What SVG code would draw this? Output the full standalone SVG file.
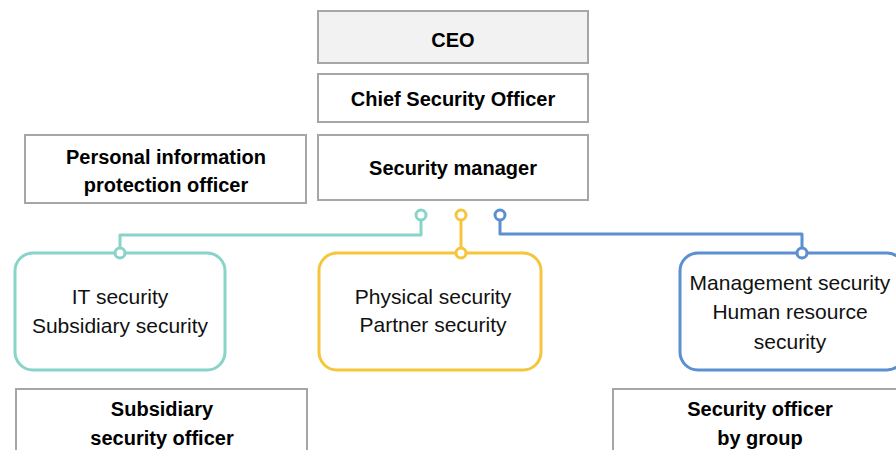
<svg xmlns="http://www.w3.org/2000/svg" width="896" height="450" viewBox="0 0 896 450">
<style>
.box{fill:#fff;stroke:#a6a6a6;stroke-width:2}
.b{font-family:"Liberation Sans",Arial,sans-serif;font-weight:bold;font-size:20px;fill:#000;text-anchor:middle}
.n{font-family:"Liberation Sans",Arial,sans-serif;font-size:21px;fill:#111;text-anchor:middle}
.c{fill:none;stroke-width:3;stroke-linejoin:round}
.dot{fill:#fff;stroke-width:3}
</style>
<rect width="896" height="450" fill="#fff"/>
<g id="ceo"><rect class="box" x="318" y="11" width="270" height="52" style="fill:#f2f2f2"/><text class="b" x="453" y="47">CEO</text></g>
<g id="cso"><rect class="box" x="318" y="74" width="270" height="48"/><text class="b" x="453" y="106">Chief Security Officer</text></g>
<g id="secmgr"><rect class="box" x="318" y="135" width="270" height="65"/><text class="b" x="453" y="175">Security manager</text></g>
<g id="pipo"><rect class="box" x="25" y="135" width="281" height="68"/><text class="b" x="166" y="164">Personal information</text><text class="b" x="166" y="192">protection officer</text></g>
<g id="connectors">
<path class="c" stroke="#88d4c9" d="M421 220V235H120V248"/>
<path class="c" stroke="#f5c63c" d="M461 220V248"/>
<path class="c" stroke="#5b8fcf" d="M500 220V234H802V248"/>
<circle class="dot" stroke="#88d4c9" cx="421" cy="215" r="5"/>
<circle class="dot" stroke="#f5c63c" cx="461" cy="215" r="5"/>
<circle class="dot" stroke="#5b8fcf" cx="500" cy="215" r="5"/>
</g>
<g id="it"><rect x="15" y="253" width="210" height="117" rx="18" fill="#fff" stroke="#88d4c9" stroke-width="3"/><circle class="dot" stroke="#88d4c9" cx="120" cy="253" r="5"/><text class="n" x="120" y="304">IT security</text><text class="n" x="120" y="333">Subsidiary security</text></g>
<g id="physical"><rect x="319" y="253" width="222" height="117" rx="18" fill="#fff" stroke="#f5c63c" stroke-width="3"/><circle class="dot" stroke="#f5c63c" cx="461" cy="253" r="5"/><text class="n" x="433" y="304">Physical security</text><text class="n" x="433" y="332">Partner security</text></g>
<g id="mgmt"><rect x="680" y="253" width="225" height="117" rx="18" fill="#fff" stroke="#5b8fcf" stroke-width="3"/><circle class="dot" stroke="#5b8fcf" cx="802" cy="253" r="5"/><text class="n" x="790" y="290">Management security</text><text class="n" x="790" y="319">Human resource</text><text class="n" x="790" y="349">security</text></g>
<g id="subofficer"><rect class="box" x="16" y="389" width="291" height="70"/><text class="b" x="162" y="416">Subsidiary</text><text class="b" x="162" y="445">security officer</text></g>
<g id="grpofficer"><rect class="box" x="613" y="389" width="294" height="70"/><text class="b" x="760" y="416">Security officer</text><text class="b" x="760" y="445">by group</text></g>
</svg>
